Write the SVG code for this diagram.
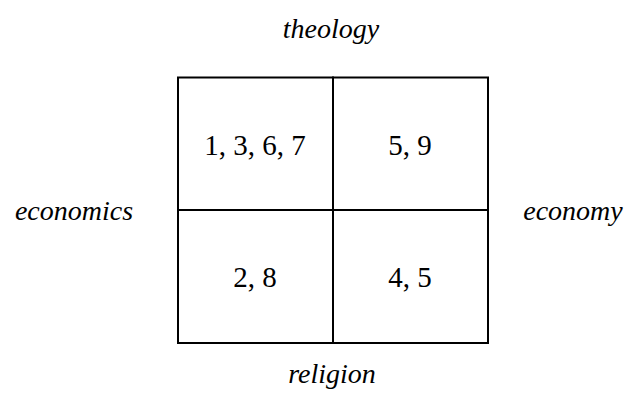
<svg xmlns="http://www.w3.org/2000/svg" width="631" height="396" viewBox="0 0 631 396">
<style>
.lbl{font-family:"Liberation Serif",serif;font-style:italic;font-size:28px;fill:#000;text-anchor:middle}
.num{font-family:"Liberation Serif",serif;font-size:29px;fill:#000;text-anchor:middle}
.cell{fill:#fff;stroke:#000;stroke-width:2}
</style>
<rect width="631" height="396" fill="#fff"/>
<g id="labels">
<text class="lbl" x="331" y="38">theology</text>
<text class="lbl" x="74" y="220">economics</text>
<text class="lbl" x="573" y="220">economy</text>
<text class="lbl" x="332" y="383">religion</text>
</g>
<g id="cell-tl"><rect class="cell" x="178" y="77.5" width="155" height="132.5"/><text class="num" x="255" y="155">1, 3, 6, 7</text></g>
<g id="cell-tr"><rect class="cell" x="333" y="77.5" width="155" height="132.5"/><text class="num" x="410" y="155">5, 9</text></g>
<g id="cell-bl"><rect class="cell" x="178" y="210" width="155" height="133"/><text class="num" x="255" y="287">2, 8</text></g>
<g id="cell-br"><rect class="cell" x="333" y="210" width="155" height="133"/><text class="num" x="410" y="287">4, 5</text></g>
<g id="connectors"></g>
</svg>
